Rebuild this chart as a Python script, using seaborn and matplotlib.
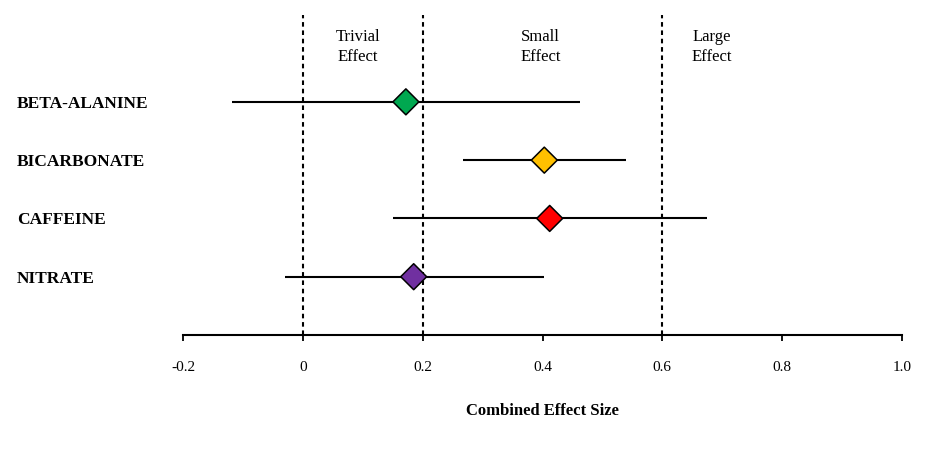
import pandas as pd
import matplotlib.pyplot as plt
import seaborn as sns

# Values
supplements = ['BETA-ALANINE', 'BICARBONATE', 'CAFFEINE', 'NITRATE']
effect_size = [0.172, 0.403, 0.412, 0.185]
ci_low = [-0.118, 0.267, 0.150, -0.030]
ci_high = [0.462, 0.540, 0.675, 0.403]
marker_colors = ['#00A850', '#FFC000', '#FF0000', '#7030A0']

thresholds = [0.0, 0.2, 0.6]
region_labels = ['Trivial\nEffect', 'Small\nEffect', 'Large\nEffect']
region_x = [0.092, 0.397, 0.683]
xtick_values = [-0.2, 0, 0.2, 0.4, 0.6, 0.8, 1.0]
xtick_labels = ['-0.2', '0', '0.2', '0.4', '0.6', '0.8', '1.0']

df = pd.DataFrame({
    'supplement': supplements,
    'row': range(len(supplements)),
    'effect': effect_size,
    'low': ci_low,
    'high': ci_high,
})

sns.set_theme(style='white')
plt.rcParams['font.family'] = ['Liberation Serif', 'DejaVu Serif']
plt.rcParams['text.color'] = 'black'
plt.rcParams['axes.labelcolor'] = 'black'
plt.rcParams['xtick.color'] = 'black'
plt.rcParams['ytick.color'] = 'black'

fig = plt.figure(figsize=(9.45, 4.5), dpi=100)
ax = fig.add_axes([183 / 945, 1 - 335 / 450, (902 - 183) / 945, 320 / 450])

# threshold lines
for t in thresholds:
    ax.axvline(t, color='black', lw=1.5, dashes=(2.2, 1.8), zorder=1)

# confidence intervals
ax.hlines(df['row'], df['low'], df['high'], color='black', lw=1.5, zorder=2)

# point estimates
sns.scatterplot(data=df, x='effect', y='row', hue='supplement', palette=marker_colors,
                marker='D', s=175, edgecolor='black', linewidth=1.1, legend=False,
                zorder=3, ax=ax)

for lab, xpos in zip(region_labels, region_x):
    ax.text(xpos, 0.9, lab, transform=ax.get_xaxis_transform(), ha='center', va='center',
            fontsize=12, linespacing=1.35)

ax.set_xlim(-0.2, 1.0)
ax.set_ylim(4.0, -1.49)
ax.set_xticks(xtick_values)
ax.set_xticklabels(xtick_labels, fontsize=11)
ax.set_yticks(df['row'])
ax.set_yticklabels(supplements, fontsize=12.5, fontweight='bold', ha='left')
ax.tick_params(axis='y', length=0, pad=119.5)
ax.tick_params(axis='x', direction='out', length=4, width=1.3, color='black',
               bottom=True, pad=14.5)
ax.set_xlabel('Combined Effect Size', fontsize=12, fontweight='bold', labelpad=21)
ax.set_ylabel('')

for side in ['top', 'right', 'left']:
    ax.spines[side].set_visible(False)
ax.spines['bottom'].set_color('black')
ax.spines['bottom'].set_linewidth(1.5)

fig.savefig('out.png', dpi=100)
